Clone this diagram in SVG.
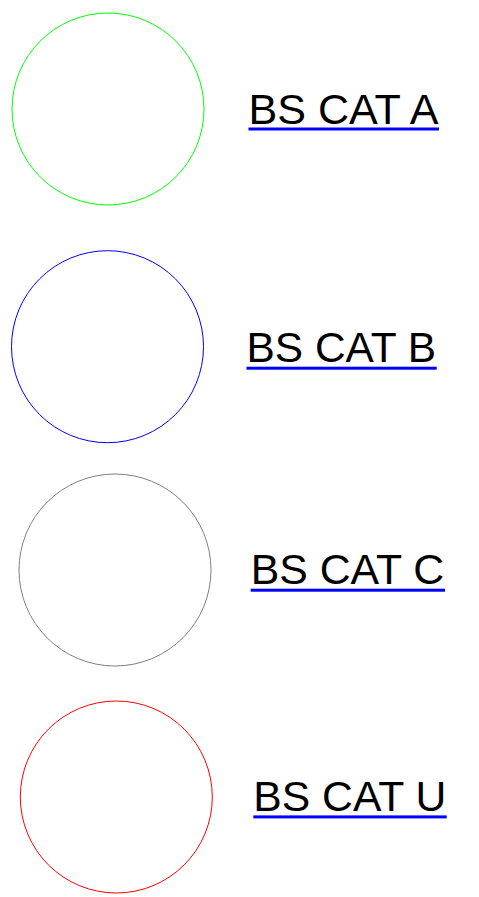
<svg xmlns="http://www.w3.org/2000/svg" width="479" height="897" viewBox="0 0 479 897">
<style>
.c{fill:none;stroke-width:1}
.t{font-family:"Liberation Sans",Arial,sans-serif;font-size:42px;fill:#000}
.u{fill:#0000ff}
</style>
<rect width="479" height="897" fill="#fff"/>
<g id="cat-a">
<circle class="c" cx="108" cy="109" r="96" stroke="#00ff00"/>
<text class="t" x="248.5" y="123.5" textLength="190" lengthAdjust="spacingAndGlyphs">BS CAT A</text>
<rect class="u" x="248.5" y="127.5" width="190.5" height="3"/>
</g>
<g id="cat-b">
<circle class="c" cx="107.5" cy="346.7" r="96" stroke="#0000ff"/>
<text class="t" x="246.5" y="362" textLength="189.5" lengthAdjust="spacingAndGlyphs">BS CAT B</text>
<rect class="u" x="246.5" y="366.7" width="190.2" height="3"/>
</g>
<g id="cat-c">
<circle class="c" cx="115" cy="570" r="96" stroke="#808080"/>
<text class="t" x="250.7" y="583.5" textLength="193.5" lengthAdjust="spacingAndGlyphs">BS CAT C</text>
<rect class="u" x="250.7" y="588.7" width="194.3" height="3"/>
</g>
<g id="cat-u">
<circle class="c" cx="116.3" cy="797" r="96" stroke="#ff0000"/>
<text class="t" x="253.3" y="811.3" textLength="193" lengthAdjust="spacingAndGlyphs">BS CAT U</text>
<rect class="u" x="253.3" y="815.4" width="193.4" height="3"/>
</g>
</svg>
